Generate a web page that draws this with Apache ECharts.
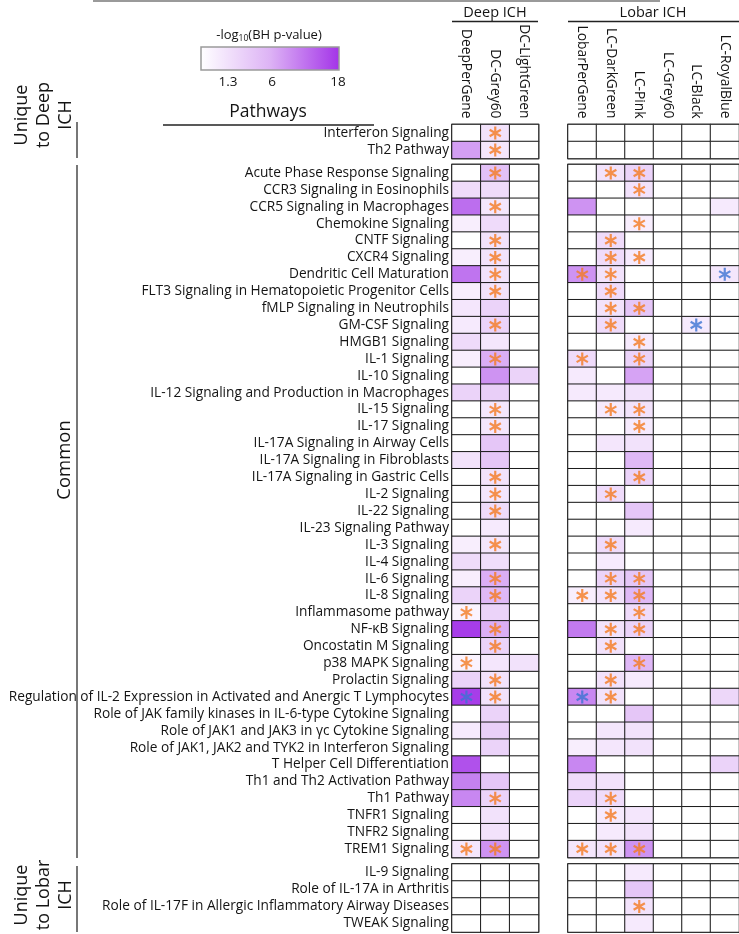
<!DOCTYPE html>
<html>
<head>
<meta charset="utf-8">
<script src="https://cdn.jsdelivr.net/npm/echarts@6/dist/echarts.min.js"></script>
<style>html,body{margin:0;padding:0;background:#fff}#c{width:739px;height:934px}</style>
</head>
<body>
<div id="c"></div>
<script>
// ---------- categories ----------
const uniqueDeep = ['Interferon Signaling', 'Th2 Pathway'];
const common = [
  'Acute Phase Response Signaling', 'CCR3 Signaling in Eosinophils', 'CCR5 Signaling in Macrophages',
  'Chemokine Signaling', 'CNTF Signaling', 'CXCR4 Signaling', 'Dendritic Cell Maturation',
  'FLT3 Signaling in Hematopoietic Progenitor Cells', 'fMLP Signaling in Neutrophils', 'GM-CSF Signaling',
  'HMGB1 Signaling', 'IL-1 Signaling', 'IL-10 Signaling', 'IL-12 Signaling and Production in Macrophages',
  'IL-15 Signaling', 'IL-17 Signaling', 'IL-17A Signaling in Airway Cells', 'IL-17A Signaling in Fibroblasts',
  'IL-17A Signaling in Gastric Cells', 'IL-2 Signaling', 'IL-22 Signaling', 'IL-23 Signaling Pathway',
  'IL-3 Signaling', 'IL-4 Signaling', 'IL-6 Signaling', 'IL-8 Signaling', 'Inflammasome pathway',
  'NF-κB Signaling', 'Oncostatin M Signaling', 'p38 MAPK Signaling', 'Prolactin Signaling',
  'Regulation of IL-2 Expression in Activated and Anergic T Lymphocytes',
  'Role of JAK family kinases in IL-6-type Cytokine Signaling', 'Role of JAK1 and JAK3 in γc Cytokine Signaling',
  'Role of JAK1, JAK2 and TYK2 in Interferon Signaling', 'T Helper Cell Differentiation',
  'Th1 and Th2 Activation Pathway', 'Th1 Pathway', 'TNFR1 Signaling', 'TNFR2 Signaling', 'TREM1 Signaling'
];
const uniqueLobar = ['IL-9 Signaling', 'Role of IL-17A in Arthritis',
  'Role of IL-17F in Allergic Inflammatory Airway Diseases', 'TWEAK Signaling'];
const deepColumns = ['DeepPerGene', 'DC-Grey60', 'DC-LightGreen'];
const lobarColumns = ['LobarPerGene', 'LC-DarkGreen', 'LC-Pink', 'LC-Grey60', 'LC-Black', 'LC-RoyalBlue'];
const legendTicks = [1.3, 6, 18];

// ---------- -log10(BH p-value) per column, rows in order: uniqueDeep(2), common(41), uniqueLobar(4) ----------
const deepPerGene = [0, 11,
  0, 4.5, 15, 2, 0, 2, 14.5, 2, 3, 2.5,
  4.5, 2, 0, 5.5, 0, 0, 0, 3.5, 0, 0,
  0, 0, 2, 4.5, 2, 5.5, 1.5, 17.5, 0, 1.5,
  5.5, 17.5, 0, 2.5, 0, 16.5, 13.5, 13, 0, 0, 3,
  0, 0, 0, 0];
const dcGrey60 = [3.5, 3,
  7.5, 4.5, 3, 4.5, 3.5, 3.5, 3.5, 3.5, 5.5, 5.5,
  3, 9.5, 12, 6, 3, 3, 7, 7, 3.5, 3,
  4.5, 2.5, 3, 4, 9.5, 8.5, 5.5, 9.5, 5.5, 3,
  3.5, 3.5, 5.5, 6, 5.5, 0, 7, 5.5, 3.5, 3.5, 12,
  0, 0, 0, 0];
const dcLightGreen = [0, 0,
  0, 0, 0, 0, 0, 0, 0, 0, 0, 0,
  0, 0, 5.5, 0, 0, 0, 0, 0, 0, 0,
  0, 0, 0, 0, 0, 0, 0, 0, 0, 3.5,
  0, 0, 0, 0, 0, 0, 0, 0, 0, 0, 0,
  0, 0, 0, 0];
const lobarPerGene = [0, 0,
  0, 0, 12, 0, 0, 0, 12, 0, 0, 0,
  0, 4.5, 2.5, 2.5, 0, 0, 0, 0, 0, 0,
  0, 0, 0, 0, 0, 2, 0, 14, 0, 0,
  0, 13, 0, 0, 2, 13, 4.5, 5.5, 0, 0, 3,
  0, 0, 0, 0];
const lcDarkGreen = [0, 0,
  3.5, 0, 0, 0, 4.5, 4.5, 3.5, 4.5, 3.5, 4.5,
  0, 0, 0, 2.5, 2.5, 0, 3, 0, 0, 4.5,
  0, 0, 4.5, 2.5, 5.5, 3.5, 0, 3.5, 3.5, 0,
  3.5, 3.5, 0, 3, 3, 0, 3.5, 4.5, 2.5, 2.5, 3.5,
  0, 0, 0, 0];
const lcPink = [0, 0,
  5.5, 3.5, 0, 2, 0, 2.5, 0, 0, 7, 0,
  2.5, 5.5, 10.5, 3.5, 3.5, 2.5, 3.5, 8.5, 5.5, 0,
  7, 2.5, 0, 0, 7, 8.5, 4.5, 5.5, 0, 8.5,
  2.5, 0, 7, 3.5, 3.5, 0, 0, 0, 3, 3.5, 12,
  2.5, 7, 3.5, 2.5];
const lcGrey60 = [0, 0,
  0, 0, 0, 0, 0, 0, 0, 0, 0, 0,
  0, 0, 0, 0, 0, 0, 0, 0, 0, 0,
  0, 0, 0, 0, 0, 0, 0, 0, 0, 0,
  0, 0, 0, 0, 0, 0, 0, 0, 0, 0, 0,
  0, 0, 0, 0];
const lcBlack = [0, 0,
  0, 0, 0, 0, 0, 0, 0, 0, 0, 2.5,
  0, 0, 0, 0, 0, 0, 0, 0, 0, 0,
  0, 0, 0, 0, 0, 0, 0, 0, 0, 0,
  0, 0, 0, 0, 0, 0, 0, 0, 0, 0, 0,
  0, 0, 0, 0];
const lcRoyalBlue = [0, 0,
  0, 0, 2.5, 0, 0, 0, 3, 0, 0, 0,
  0, 0, 0, 0, 0, 0, 0, 0, 0, 0,
  0, 0, 0, 0, 0, 0, 0, 0, 0, 0,
  0, 5, 0, 0, 0, 5.5, 0, 0, 0, 0, 0,
  0, 0, 0, 0];

// ---------- significance markers: 0 none, 1 orange asterisk, 2 blue asterisk ----------
const deepPerGeneStars = [0, 0,
  0, 0, 0, 0, 0, 0, 0, 0, 0, 0,
  0, 0, 0, 0, 0, 0, 0, 0, 0, 0,
  0, 0, 0, 0, 0, 0, 1, 0, 0, 1,
  0, 2, 0, 0, 0, 0, 0, 0, 0, 0, 1,
  0, 0, 0, 0];
const dcGrey60Stars = [1, 1,
  1, 0, 1, 0, 1, 1, 1, 1, 0, 1,
  0, 1, 0, 0, 1, 1, 0, 0, 1, 1,
  1, 0, 1, 0, 1, 1, 0, 1, 1, 0,
  1, 1, 0, 0, 0, 0, 0, 1, 0, 0, 1,
  0, 0, 0, 0];
const dcLightGreenStars = new Array(47).fill(0);
const lobarPerGeneStars = [0, 0,
  0, 0, 0, 0, 0, 0, 1, 0, 0, 0,
  0, 1, 0, 0, 0, 0, 0, 0, 0, 0,
  0, 0, 0, 0, 0, 1, 0, 0, 0, 0,
  0, 2, 0, 0, 0, 0, 0, 0, 0, 0, 1,
  0, 0, 0, 0];
const lcDarkGreenStars = [0, 0,
  1, 0, 0, 0, 1, 1, 1, 1, 1, 1,
  0, 0, 0, 0, 1, 0, 0, 0, 0, 1,
  0, 0, 1, 0, 1, 1, 0, 1, 1, 0,
  1, 1, 0, 0, 0, 0, 0, 1, 1, 0, 1,
  0, 0, 0, 0];
const lcPinkStars = [0, 0,
  1, 1, 0, 1, 0, 1, 0, 0, 1, 0,
  1, 1, 0, 0, 1, 1, 0, 0, 1, 0,
  0, 0, 0, 0, 1, 1, 1, 1, 0, 1,
  0, 0, 0, 0, 0, 0, 0, 0, 0, 0, 1,
  0, 0, 1, 0];
const lcGrey60Stars = new Array(47).fill(0);
const lcBlackStars = [0, 0,
  0, 0, 0, 0, 0, 0, 0, 0, 0, 2,
  0, 0, 0, 0, 0, 0, 0, 0, 0, 0,
  0, 0, 0, 0, 0, 0, 0, 0, 0, 0,
  0, 0, 0, 0, 0, 0, 0, 0, 0, 0, 0,
  0, 0, 0, 0];
const lcRoyalBlueStars = [0, 0,
  0, 0, 0, 0, 0, 0, 2, 0, 0, 0,
  0, 0, 0, 0, 0, 0, 0, 0, 0, 0,
  0, 0, 0, 0, 0, 0, 0, 0, 0, 0,
  0, 0, 0, 0, 0, 0, 0, 0, 0, 0, 0,
  0, 0, 0, 0];

const columnValues = {
  'DeepPerGene': deepPerGene, 'DC-Grey60': dcGrey60, 'DC-LightGreen': dcLightGreen,
  'LobarPerGene': lobarPerGene, 'LC-DarkGreen': lcDarkGreen, 'LC-Pink': lcPink,
  'LC-Grey60': lcGrey60, 'LC-Black': lcBlack, 'LC-RoyalBlue': lcRoyalBlue
};
const columnStars = {
  'DeepPerGene': deepPerGeneStars, 'DC-Grey60': dcGrey60Stars, 'DC-LightGreen': dcLightGreenStars,
  'LobarPerGene': lobarPerGeneStars, 'LC-DarkGreen': lcDarkGreenStars, 'LC-Pink': lcPinkStars,
  'LC-Grey60': lcGrey60Stars, 'LC-Black': lcBlackStars, 'LC-RoyalBlue': lcRoyalBlueStars
};

// ---------- styling ----------
const FONT = "'Open Sans'";
const ORANGE = '#F47B20';
const BLUE = '#3B73D2';
const TEXT = '#141414';

function asteriskPath() {
  const L = 50, t = 8.5;
  let d = '';
  [90, 30, -30].forEach(a => {
    const r = a * Math.PI / 180, dx = Math.cos(r), dy = Math.sin(r), nx = -dy, ny = dx;
    const pts = [[L*dx + t*nx, L*dy + t*ny], [L*dx - t*nx, L*dy - t*ny],
                 [-L*dx - t*nx, -L*dy - t*ny], [-L*dx + t*nx, -L*dy + t*ny]];
    d += 'M' + pts.map(p => (p[0] + 60).toFixed(2) + ' ' + (p[1] + 60).toFixed(2)).join(' L') + ' Z ';
  });
  return 'path://' + d;
}
const STAR = asteriskPath();

const sections = [
  { rows: uniqueDeep, start: 0, top: 124.5, height: 34 },
  { rows: common, start: 2, top: 164.5, height: 693 },
  { rows: uniqueLobar, start: 43, top: 864, height: 68 }
];
const groups = [
  { cols: deepColumns, left: 452, width: 86.5 },
  { cols: lobarColumns, left: 568, width: 174 }
];

const grids = [], xAxes = [], yAxes = [], series = [], heatIdx = [];
sections.forEach((s, si) => {
  groups.forEach((g, gi) => {
    const k = grids.length;
    grids.push({ left: g.left, top: s.top, width: g.width, height: s.height,
      show: true, borderColor: '#1a1a1a', borderWidth: 1.6, backgroundColor: '#fff' });
    xAxes.push({ gridIndex: k, type: 'category', data: g.cols, position: 'top',
      axisLine: { show: false }, axisTick: { show: false }, splitLine: { show: false },
      axisLabel: { show: si === 0, rotate: 90, margin: 6, fontFamily: FONT, fontSize: 13.8, color: TEXT, interval: 0 } });
    yAxes.push({ gridIndex: k, type: 'category', data: s.rows, inverse: true,
      axisLine: { show: false }, axisTick: { show: false }, splitLine: { show: false },
      axisLabel: { show: gi === 0, margin: 3, fontFamily: FONT, fontSize: 13.7, color: TEXT, interval: 0 } });
    const heat = [], stars = [];
    g.cols.forEach((c, ci) => {
      s.rows.forEach((r, ri) => {
        const v = columnValues[c][s.start + ri];
        heat.push([ci, ri, v]);
        const st = columnStars[c][s.start + ri];
        if (st) stars.push({ value: [ci, ri], itemStyle: { color: st === 1 ? ORANGE : BLUE } });
      });
    });
    heatIdx.push(series.length);
    series.push({ type: 'heatmap', xAxisIndex: k, yAxisIndex: k, data: heat,
      itemStyle: { borderColor: '#1a1a1a', borderWidth: 1 }, emphasis: { disabled: true }, silent: true });
    series.push({ type: 'scatter', xAxisIndex: k, yAxisIndex: k, data: stars, symbol: STAR,
      symbolSize: 13, symbolKeepAspect: true, z: 5, silent: true });
  });
});

const line = (x1, y1, x2, y2, color, w) => ({ type: 'line', shape: { x1, y1, x2, y2 }, style: { stroke: color, lineWidth: w }, silent: true });
const txt = (x, y, text, size, extra) => Object.assign({ type: 'text', x, y, silent: true,
  style: Object.assign({ text, fill: TEXT, font: size + 'px ' + FONT, textAlign: 'center', textVerticalAlign: 'middle' }, extra || {}) });
const vtxt = (x, y, text, size, lh) => ({ type: 'text', x, y, rotation: Math.PI / 2, silent: true,
  style: { text, fill: TEXT, font: size + 'px ' + FONT, textAlign: 'center', textVerticalAlign: 'middle', lineHeight: lh || 22 } });

// legend tick label positions (bar from 201 to 339)
const legendX = { 1.3: 228, 6: 272, 18: 338 };

const graphics = [
  line(93, 1, 660, 1, '#9a9a9a', 2),
  txt(495, 13, 'Deep ICH', 14.5),
  line(452, 21.5, 538, 21.5, '#222', 1.5),
  txt(653, 13, 'Lobar ICH', 14.5),
  line(568, 21.5, 739, 21.5, '#222', 1.5),
  { type: 'text', x: 269, y: 35, silent: true,
    style: { text: '-log{s|10}(BH p-value)', fill: TEXT, font: '13px ' + FONT, textAlign: 'center', textVerticalAlign: 'middle',
      rich: { s: { fontSize: 8.5, fontFamily: FONT, fill: TEXT, padding: [8, 0, 0, 0] } } } },
  { type: 'rect', shape: { x: 201, y: 47, width: 138, height: 23 }, silent: true,
    style: { stroke: '#9a9a9a', lineWidth: 1.5,
      fill: { type: 'linear', x: 0, y: 0, x2: 1, y2: 0, colorStops: [
        { offset: 0, color: '#ffffff' }, { offset: 0.5, color: '#DDB3F5' }, { offset: 1, color: '#A333E8' }] } } },
  txt(268, 112, 'Pathways', 17.5),
  line(163, 125, 374, 125, '#222', 1.5),
  vtxt(44, 115, 'Unique\nto Deep\nICH', 18, 22),
  line(77, 122, 77, 158, '#777', 2),
  vtxt(65, 460, 'Common', 18.5),
  line(77, 165, 77, 858, '#777', 2),
  vtxt(44, 895, 'Unique\nto Lobar\nICH', 18, 22),
  line(77, 866, 77, 932, '#777', 2)
];
legendTicks.forEach(t => graphics.push(txt(legendX[t], 82, String(t), 13.5)));

const chart = echarts.init(document.getElementById('c'), null, { renderer: 'canvas', width: 739, height: 934 });
chart.setOption({
  animation: false,
  backgroundColor: '#fff',
  grid: grids, xAxis: xAxes, yAxis: yAxes,
  visualMap: { show: false, type: 'continuous', min: 0, max: 18, seriesIndex: heatIdx, dimension: 2,
    inRange: { color: ['#FFFFFF', '#F4E6FC', '#E9CFF8', '#DDB3F5', '#CE93F2', '#BC6EEE', '#A333E8'] } },
  series,
  graphic: graphics
});
</script>
</body>
</html>
